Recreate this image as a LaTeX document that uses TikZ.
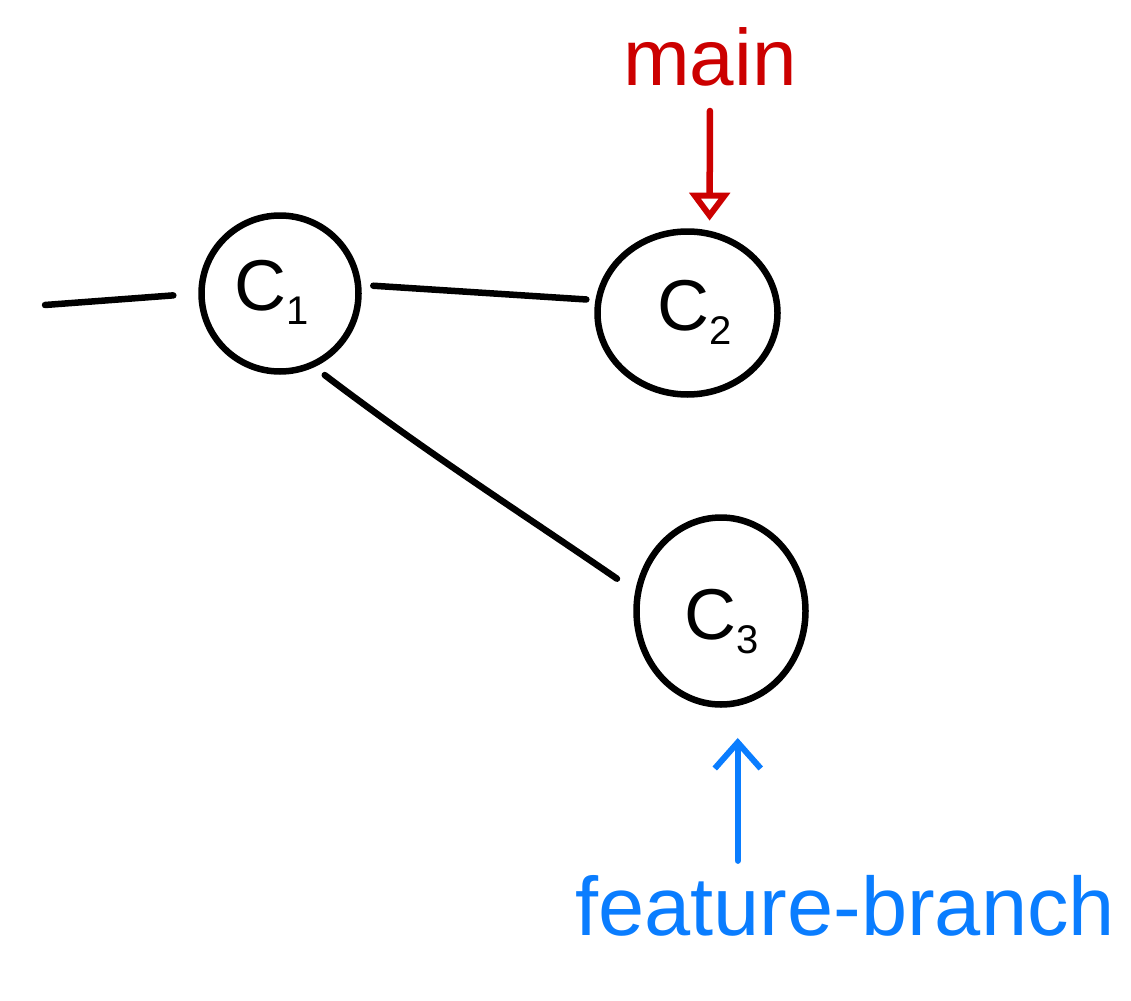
\documentclass[tikz,border=0pt]{standalone}
\usepackage{fontspec}
\setmainfont{Liberation Sans}
\usetikzlibrary{shapes.geometric,arrows.meta}
\definecolor{mred}{RGB}{204,0,0}
\definecolor{mblue}{RGB}{10,125,255}
\newcommand{\clab}[2]{C\raisebox{-14pt}{\fontsize{40}{40}\selectfont #2}}
\begin{document}
\begin{tikzpicture}[x=1pt,y=-1pt,
  stroke/.style={line width=6.5pt,line cap=round,line join=round},
  commit/.style={stroke,draw=black,ellipse,inner sep=0pt},
  clabel/.style={inner sep=0pt,font=\fontsize{72}{80}\selectfont},
  tagtext/.style={inner sep=0pt,font=\fontsize{#1}{#1}\selectfont},
]
\useasboundingbox (0,0) rectangle (1131,1000);
% commits
\node[commit,minimum width=157pt,minimum height=156pt] (c1) at (280,293.5) {};
\node[commit,minimum width=180pt,minimum height=163pt] (c2) at (687.5,313) {};
\node[commit,minimum width=169pt,minimum height=187pt] (c3) at (721,611) {};
\node[clabel] (l1) at (272,292) {\clab{C}{1}};
\node[clabel] (l2) at (695,312) {\clab{C}{2}};
\node[clabel] (l3) at (722,622) {\clab{C}{3}};
% connectors
\coordinate (in) at (45,305);
\draw[stroke,shorten >=25pt] (in) -- (c1.west);
\draw[stroke,shorten <=12pt,shorten >=9pt] (c1.6) -- (c2.172);
\draw[stroke,shorten <=22pt,shorten >=13pt] (c3.167) .. controls (520,512) and (430,455) .. (c1.-65);
% labels
\node[tagtext=80,text=mred,anchor=base] (main) at (710,86) {main};
\draw[stroke,draw=mred,-{Triangle[open,length=28pt,width=40pt,line width=6pt]},shorten <=24pt,shorten >=10pt] (main.south) -- (c2.75);
\node[tagtext=83,text=mblue,anchor=base] (fb) at (845,935) {feature-branch};
\draw[stroke,draw=mblue,-{Straight Barb[length=26pt,width=46pt,line width=6pt]},shorten <=14pt,shorten >=32pt] (fb.north -| c3.-80) -- (c3.-80);
\end{tikzpicture}
\end{document}
